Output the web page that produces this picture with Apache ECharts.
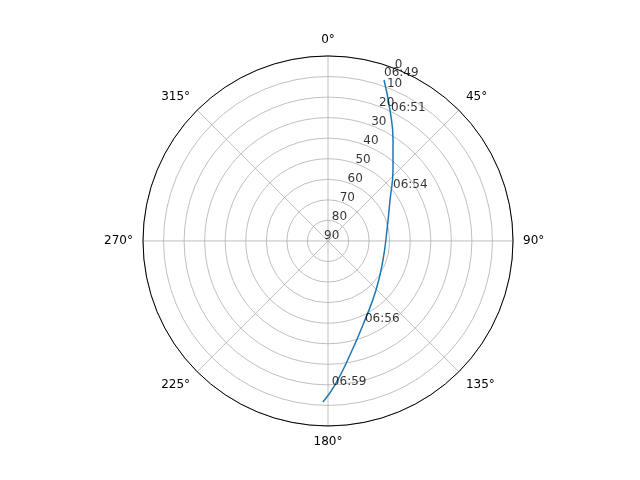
<!DOCTYPE html>
<html>
<head>
<meta charset="utf-8">
<script src="https://cdn.jsdelivr.net/npm/echarts@6/dist/echarts.min.js"></script>
<style>html,body{margin:0;padding:0;background:#fff}#chart{width:640px;height:480px}</style>
</head>
<body>
<div id="chart"></div>
<script>
// satellite pass track: elevation (radius, inverted) and azimuth (deg, clockwise from north)
const trackElevation = [7.1, 19.5, 31.6, 43.2, 53.8, 60.8, 61.7, 56.6, 47.6, 33.5, 19.9, 11.6]
const trackAzimuth = [19.2, 25.3, 32.8, 42.5, 56.5, 79.4, 109.1, 135.6, 154.9, 169.1, 177.2, 181.8]
const timeLabels = ['06:49', '06:51', '06:54', '06:56', '06:59']
const timeElevation = [7.1, 21.5, 50.4, 44.9, 18.0]
const timeAzimuth = [19.2, 26.6, 53.0, 156.5, 178.5]
const radiusTicks = [0, 10, 20, 30, 40, 50, 60, 70, 80, 90]
const radiusLabelAngle = 22.5

const chart = echarts.init(document.getElementById('chart'))
const font = { fontFamily: 'DejaVu Sans', fontSize: 12, color: '#000' }

const option = {
  animation: false,
  polar: { center: ['51.25%', '50.2%'], radius: 185 },
  angleAxis: {
    type: 'value',
    min: 0,
    max: 360,
    interval: 45,
    startAngle: 90,
    clockwise: true,
    axisLine: { lineStyle: { color: '#000', width: 1 } },
    axisTick: { show: false },
    axisLabel: Object.assign({ formatter: '{value}°', margin: 10 }, font),
    splitLine: { show: true, lineStyle: { color: '#b0b0b0', width: 0.8 } }
  },
  radiusAxis: {
    type: 'value',
    min: 0,
    max: 90,
    interval: 10,
    inverse: true,
    axisLine: { show: false },
    axisTick: { show: false },
    axisLabel: { show: false },
    splitLine: { show: true, lineStyle: { color: '#b0b0b0', width: 0.8 } }
  },
  series: [
    {
      type: 'line',
      coordinateSystem: 'polar',
      showSymbol: false,
      smooth: true,
      lineStyle: { color: '#1f77b4', width: 1.5 },
      data: trackElevation.map((e, i) => [e, trackAzimuth[i]])
    },
    {
      type: 'scatter',
      coordinateSystem: 'polar',
      symbolSize: 0,
      label: Object.assign({ show: true, position: [0, -13], formatter: p => p.name }, font),
      data: timeLabels.map((t, i) => ({ name: t, value: [timeElevation[i], timeAzimuth[i]] })),
      z: 5
    },
    {
      type: 'scatter',
      coordinateSystem: 'polar',
      symbolSize: 0,
      label: Object.assign({ show: true, position: 'right', distance: 0, offset: [-4, -5], formatter: p => p.name }, font),
      data: radiusTicks.map(r => ({ name: String(r), value: [r, radiusLabelAngle] })),
      z: 5
    }
  ]
}
chart.setOption(option)
</script>
</body>
</html>
